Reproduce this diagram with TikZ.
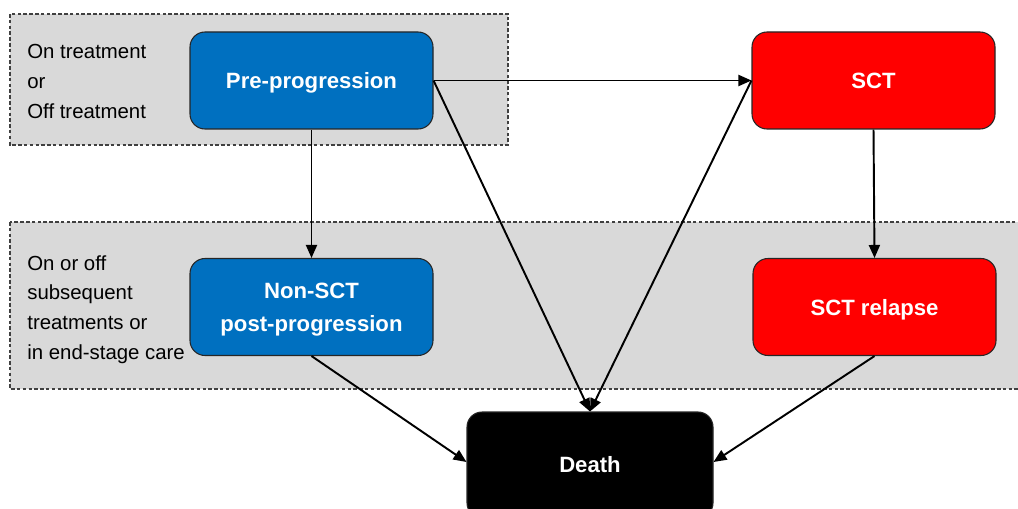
\documentclass[tikz,border=0pt]{standalone}
\usepackage{fontspec}
\setmainfont{Liberation Sans}
\usetikzlibrary{arrows.meta}

\definecolor{stateblue}{HTML}{0070C0}
\definecolor{statered}{HTML}{FF0000}
\definecolor{bandgray}{HTML}{D9D9D9}

\tikzset{
  state/.style={draw=black!85, line width=0.6pt, rounded corners=3mm, text=white,
    font=\bfseries\fontsize{12.6}{18.7}\selectfont, align=center,
    minimum width=48.6mm, minimum height=19.4mm, inner sep=0pt},
  bluestate/.style={state, fill=stateblue},
  redstate/.style={state, fill=statered},
  band/.style={draw=black!75, dash pattern=on 2pt off 1.3pt, line width=0.6pt, fill=bandgray},
  note/.style={anchor=north west, align=left, inner sep=0pt,
    font=\fontsize{11.6}{17}\selectfont},
  trans/.style={line width=1.1pt, -{Triangle[length=2.6mm,width=2.2mm]}}
}

\begin{document}
\begin{tikzpicture}[x=0.2mm, y=-0.2mm]
\useasboundingbox (0,0) rectangle (1018,509);

% shaded bands
\draw[band] (10,14) rectangle (508,145);
\draw[band] (10,222) rectangle (1030,389);

% band notes
\node[note] (notetop) at (27,44) {On treatment\\or\\Off treatment};
\node[note] (notebottom) at (27,255) {On or off\\subsequent\\treatments or\\in end-stage care};

% states
\node[bluestate, text depth=0pt] (pre) at (311.5,80.5) {Pre-progression};
\node[redstate] (sct) at (873.5,80.5) {SCT};
\node[bluestate, text depth=0pt] (nonsct) at (311.5,307) {Non-SCT\\post-progression};
\node[redstate, text depth=0pt] (relapse) at (874.5,307) {SCT relapse};
\node[state, fill=black, minimum width=49.2mm, minimum height=21.2mm] (death) at (590,465) {Death};

% transitions
\draw[trans] (pre.east) -- (sct.west);
\draw[trans] (pre.south) -- (nonsct.north);
\draw[trans] (sct.south) -- (relapse.north);
\draw[trans] (pre.east) -- (death.north);
\draw[trans] (sct.west) -- (death.north);
\draw[trans] (nonsct.south) -- ([yshift=0.6mm]death.west);
\draw[trans] (relapse.south) -- ([yshift=0.6mm]death.east);
\end{tikzpicture}
\end{document}
